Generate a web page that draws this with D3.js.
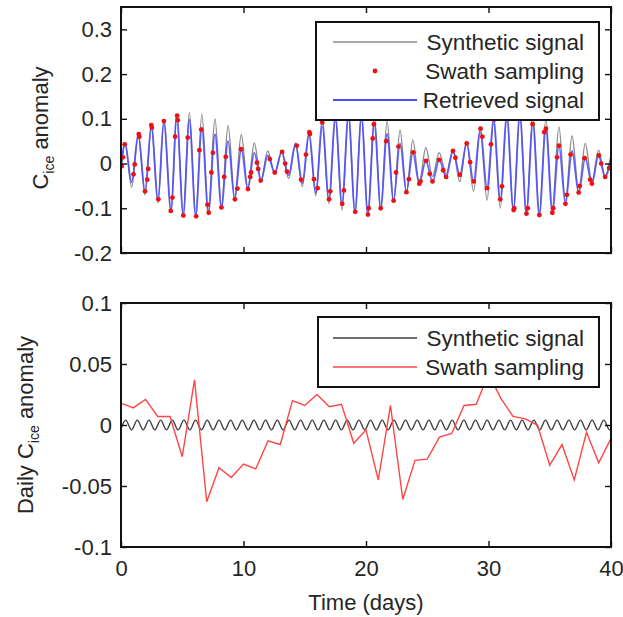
<!DOCTYPE html>
<html>
<head>
<meta charset="utf-8">
<script src="https://cdn.jsdelivr.net/npm/d3@7"></script>
<style>
  body { margin: 0; background: #fff; }
  text { font-family: "Liberation Sans", Arial, Helvetica, sans-serif; fill: #262626; }
</style>
</head>
<body>
<svg id="chart" width="623" height="617"></svg>
<script>
// ---- Top panel: hourly ice-concentration anomaly (days, value) ----
// Synthetic signal, listed at its successive crests and troughs
const synthetic = [
  [0,-0.015],[0.33,0.043],[0.87,-0.053],[1.41,0.062],[1.96,-0.07],
  [2.48,0.08],[3.02,-0.088],[3.50,0.096],[4.08,-0.104],[4.55,0.108],
  [5.08,-0.112],[5.58,0.114],[6.10,-0.115],[6.60,0.111],[7.13,-0.107],
  [7.67,0.1],[8.20,-0.094],[8.74,0.085],[9.28,-0.076],[9.82,0.065],
  [10.35,-0.055],[10.88,0.046],[11.43,-0.037],[11.98,0.028],[12.55,-0.023],
  [13.12,0.026],[13.68,-0.033],[14.25,0.042],[14.80,-0.052],[15.35,0.062],
  [15.90,-0.072],[16.43,0.082],[16.97,-0.09],[17.50,0.098],[18.04,-0.104],
  [18.57,0.108],[19.10,-0.111],[19.63,0.113],[20.15,-0.112],[20.68,0.108],
  [21.20,-0.103],[21.72,0.095],[22.25,-0.085],[22.78,0.075],[23.30,-0.064],
  [23.82,0.053],[24.35,-0.044],[24.88,0.036],[25.43,-0.029],[25.98,0.024],
  [26.54,-0.023],[27.10,0.03],[27.66,-0.04],[28.22,0.05],[28.78,-0.062],
  [29.33,0.07],[29.88,-0.082],[30.42,0.09],[30.96,-0.1],[31.50,0.104],
  [32.03,-0.107],[32.56,0.11],[33.09,-0.112],[33.62,0.112],[34.15,-0.11],
  [34.68,0.1],[35.21,-0.098],[35.75,0.082],[36.28,-0.084],[36.82,0.062],
  [37.36,-0.063],[37.90,0.045],[38.44,-0.043],[38.98,0.03],[39.52,-0.028],
  [40,0.02]
];

// Retrieved signal, crests and troughs
const retrieved = [
  [0,-0.01],[0.33,0.045],[0.87,-0.042],[1.41,0.066],[1.96,-0.062],
  [2.48,0.086],[3.02,-0.082],[3.50,0.095],[4.08,-0.106],[4.55,0.107],
  [5.08,-0.116],[5.58,0.098],[6.10,-0.118],[6.60,0.08],[7.13,-0.11],
  [7.67,0.066],[8.20,-0.098],[8.74,0.05],[9.28,-0.08],[9.82,0.032],
  [10.35,-0.057],[10.88,0.024],[11.43,-0.038],[11.98,0.018],[12.55,-0.02],
  [13.12,0.026],[13.68,-0.026],[14.25,0.045],[14.80,-0.044],[15.35,0.07],
  [15.90,-0.066],[16.43,0.092],[16.97,-0.08],[17.50,0.105],[18.04,-0.09],
  [18.57,0.11],[19.10,-0.108],[19.63,0.105],[20.15,-0.114],[20.68,0.09],
  [21.20,-0.1],[21.72,0.066],[22.25,-0.083],[22.78,0.045],[23.30,-0.064],
  [23.82,0.025],[24.35,-0.045],[24.88,0.006],[25.43,-0.04],[25.98,0.008],
  [26.54,-0.03],[27.10,0.028],[27.66,-0.025],[28.22,0.045],[28.78,-0.04],
  [29.33,0.078],[29.88,-0.055],[30.42,0.098],[30.96,-0.08],[31.50,0.108],
  [32.03,-0.104],[32.56,0.11],[33.09,-0.112],[33.62,0.088],[34.15,-0.115],
  [34.68,0.078],[35.21,-0.11],[35.75,0.04],[36.28,-0.09],[36.82,0.028],
  [37.36,-0.065],[37.90,0.012],[38.44,-0.045],[38.98,0.018],[39.52,-0.03],
  [40,0.012]
];

// Swath sampling points
const swath = [
  [0.05,-0.006],[0.16,0.014],[0.3,0.043],
  [1.02,-0.024],[1.12,-0.002],[1.45,0.066],[1.5,0.06],
  [1.96,-0.062],[2.14,-0.036],[2.22,-0.012],[2.47,0.086],[2.52,0.08],
  [3.05,-0.08],[3.5,0.095],
  [4.06,-0.106],[4.2,-0.076],[4.42,0.06],[4.58,0.107],[4.63,0.097],
  [5.09,-0.116],[5.45,0.058],
  [6.14,-0.118],[6.4,0.03],[6.55,0.076],
  [7.06,-0.092],[7.16,-0.11],[7.38,-0.02],[7.5,0.024],
  [8.2,-0.098],[8.42,-0.03],[8.55,0.015],
  [9.3,-0.08],[9.5,-0.056],[9.8,0.032],
  [10.36,-0.057],[10.55,-0.03],[10.62,-0.02],
  [11.1,0.002],[11.2,-0.012],[11.4,-0.038],
  [12.15,0.01],[12.55,-0.02],
  [13.15,0.026],[13.4,0.0],[13.55,-0.018],
  [14.35,0.04],[14.7,-0.036],
  [15.1,0.02],[15.38,0.07],[15.42,0.066],
  [15.75,-0.035],[16.05,-0.055],[16.43,0.092],
  [16.98,-0.08],[17.08,-0.062],
  [18.06,-0.09],[18.2,-0.06],[18.55,0.11],
  [19.12,-0.108],[19.6,0.105],
  [20.16,-0.114],[20.22,-0.1],[20.55,0.056],[20.64,0.088],
  [21.2,-0.1],[21.65,0.05],
  [22.25,-0.083],[22.45,-0.02],[22.65,0.038],
  [23.3,-0.064],[23.5,-0.035],[23.85,0.025],
  [24.35,-0.045],[24.45,-0.04],[24.9,0.006],
  [25.2,-0.023],[25.43,-0.04],[25.98,0.008],
  [26.3,-0.015],[26.54,-0.03],
  [27.1,0.028],[27.3,0.013],[27.66,-0.025],
  [28.22,0.045],[28.5,0.003],[28.8,-0.04],
  [29.35,0.078],[29.5,0.06],[29.88,-0.055],
  [30.2,0.043],[30.45,0.098],
  [30.96,-0.08],[31.1,-0.051],
  [32.05,-0.104],[32.1,-0.1],[32.55,0.11],
  [33.1,-0.112],[33.2,-0.1],[33.6,0.088],
  [34.15,-0.115],[34.55,0.07],[34.68,0.078],
  [35.21,-0.11],[35.28,-0.1],[35.6,0.014],[35.75,0.04],
  [36.28,-0.09],[36.4,-0.07],[36.7,0.02],
  [37.36,-0.065],[37.45,-0.05],[37.85,0.012],
  [38.3,-0.036],[38.44,-0.045],
  [39.0,0.018],[39.2,0.0],[39.52,-0.03],
  [39.85,-0.01]
];

// ---- Bottom panel: daily means ----
// Daily mean of the synthetic signal (small residual ripple)
const dailySynthetic = [
  [0,-0.003],[0.38,0.004],[0.86,-0.004],[1.33,0.004],[1.81,-0.004],[2.28,0.004],
  [2.76,-0.004],[3.24,0.004],[3.71,-0.004],[4.19,0.004],[4.66,-0.004],[5.14,0.004],
  [5.62,-0.004],[6.09,0.004],[6.57,-0.004],[7.04,0.004],[7.52,-0.004],[8.00,0.004],
  [8.47,-0.004],[8.95,0.004],[9.42,-0.004],[9.90,0.004],[10.38,-0.004],[10.85,0.004],
  [11.33,-0.004],[11.80,0.004],[12.28,-0.004],[12.76,0.004],[13.23,-0.004],[13.71,0.004],
  [14.18,-0.004],[14.66,0.004],[15.14,-0.004],[15.61,0.004],[16.09,-0.004],[16.56,0.004],
  [17.04,-0.004],[17.52,0.004],[17.99,-0.004],[18.47,0.004],[18.94,-0.004],[19.42,0.004],
  [19.90,-0.004],[20.37,0.004],[20.85,-0.004],[21.32,0.004],[21.80,-0.004],[22.28,0.004],
  [22.75,-0.004],[23.23,0.004],[23.70,-0.004],[24.18,0.004],[24.66,-0.004],[25.13,0.004],
  [25.61,-0.004],[26.08,0.004],[26.56,-0.004],[27.04,0.004],[27.51,-0.004],[27.99,0.004],
  [28.46,-0.004],[28.94,0.004],[29.42,-0.004],[29.89,0.004],[30.37,-0.004],[30.84,0.004],
  [31.32,-0.004],[31.80,0.004],[32.27,-0.004],[32.75,0.004],[33.22,-0.004],[33.70,0.004],
  [34.18,-0.004],[34.65,0.004],[35.13,-0.004],[35.60,0.004],[36.08,-0.004],[36.56,0.004],
  [37.03,-0.004],[37.51,0.004],[37.98,-0.004],[38.46,0.004],[38.94,-0.004],[39.41,0.004],
  [39.89,-0.004],[40,-0.0035]
];

// Daily mean of the swath samples
const dailyDays = [0,1,2,3,4,5,6,7,8,9,10,11,12,13,14,15,16,17,18,19,20,
                   21,22,23,24,25,26,27,28,29,30,31,32,33,34,35,36,37,38,39,40];
const dailySwath = [0.018,0.014,0.021,0.007,0.007,-0.026,0.037,-0.063,-0.035,-0.043,-0.032,
                    -0.036,-0.013,-0.016,0.020,0.016,0.025,0.015,0.017,-0.015,-0.004,
                    -0.045,0.016,-0.061,-0.029,-0.028,-0.010,-0.007,0.016,0.017,0.042,
                    0.022,0.007,0.005,0.000,-0.033,-0.016,-0.045,-0.006,-0.031,-0.011];

// Axis ticks and labels
const xTicks = [0,10,20,30,40];
const topYTicks = [-0.2,-0.1,0,0.1,0.2,0.3];
const botYTicks = [-0.1,-0.05,0,0.05,0.1];
const topLegend = ["Synthetic signal","Swath sampling","Retrieved signal"];
const botLegend = ["Synthetic signal","Swath sampling"];
const xTitle = "Time (days)";

// ---- Drawing ----
const svg = d3.select("#chart");
const FS = 22;
const L = 121, R = 611;
const x = d3.scaleLinear().domain([0,40]).range([L,R]);
const yTop = d3.scaleLinear().domain([-0.2,0.35]).range([253,7]);
const yBot = d3.scaleLinear().domain([-0.1,0.1]).range([547,303]);

const colGray = "#8c8c8c", colBlue = "#4a4aff", colRed = "#ee1111", colDark = "#404040", colRedLine = "#ff4545";

const defs = svg.append("defs");
function clip(id, y) {
  const [b, t] = y.range();
  defs.append("clipPath").attr("id", id)
    .append("rect").attr("x", L).attr("y", t).attr("width", R - L).attr("height", b - t);
}
clip("clipTop", yTop);
clip("clipBot", yBot);

function axes(y, ticks, labelX) {
  const g = svg.append("g");
  const [b, t] = y.range();
  const fmt = d => String(d);
  g.append("g").attr("transform", `translate(${L},0)`)
    .call(d3.axisLeft(y).tickValues(ticks).tickSizeInner(-6).tickSizeOuter(0).tickPadding(9).tickFormat(fmt));
  g.append("g").attr("transform", `translate(${R},0)`)
    .call(d3.axisRight(y).tickValues(ticks).tickSizeInner(-6).tickSizeOuter(0).tickFormat(""));
  g.append("g").attr("transform", `translate(0,${b})`)
    .call(d3.axisBottom(x).tickValues(xTicks).tickSizeInner(-6).tickSizeOuter(0)
      .tickPadding(13).tickFormat(labelX ? d3.format("d") : ""));
  g.append("g").attr("transform", `translate(0,${t})`)
    .call(d3.axisTop(x).tickValues(xTicks).tickSizeInner(-6).tickSizeOuter(0).tickFormat(""));
  g.selectAll(".domain").remove();
  g.selectAll(".tick line").attr("stroke", "#111").attr("stroke-width", 1.4);
  g.selectAll(".tick text").attr("font-size", FS).attr("font-family", null).style("fill", "#262626");
  g.append("rect").attr("x", L).attr("y", t).attr("width", R - L).attr("height", b - t)
    .attr("fill", "none").attr("stroke", "#111").attr("stroke-width", 2);
  return g;
}

const smooth = y => d3.line().x(d => x(d[0])).y(d => y(d[1])).curve(d3.curveMonotoneX);
const straight = y => d3.line().x(d => x(d[0])).y(d => y(d[1]));

// Top panel marks
const gTop = svg.append("g").attr("clip-path", "url(#clipTop)");
gTop.append("path").datum(synthetic).attr("d", smooth(yTop))
  .attr("fill", "none").attr("stroke", colGray).attr("stroke-width", 1.4);
gTop.append("path").datum(retrieved).attr("d", smooth(yTop))
  .attr("fill", "none").attr("stroke", colBlue).attr("stroke-width", 1.8).attr("stroke-opacity", 0.85);
gTop.selectAll("circle").data(swath).join("circle")
  .attr("cx", d => x(d[0])).attr("cy", d => yTop(d[1])).attr("r", 2.4).attr("fill", colRed);

// Bottom panel marks
const gBot = svg.append("g").attr("clip-path", "url(#clipBot)");
gBot.append("path").datum(dailySynthetic).attr("d", smooth(yBot))
  .attr("fill", "none").attr("stroke", colDark).attr("stroke-width", 1.4);
gBot.append("path").datum(dailyDays.map((d, i) => [d, dailySwath[i]])).attr("d", straight(yBot))
  .attr("fill", "none").attr("stroke", colRedLine).attr("stroke-width", 1.4);

axes(yTop, topYTicks, false);
axes(yBot, botYTicks, true);

// Legends
function legend(x0, y0, w, h, rows) {
  const g = svg.append("g");
  g.append("rect").attr("x", x0).attr("y", y0).attr("width", w).attr("height", h)
    .attr("fill", "#fff").attr("stroke", "#111").attr("stroke-width", 2);
  rows.forEach(r => {
    if (r.kind === "line") {
      g.append("line").attr("x1", 333).attr("x2", 417).attr("y1", r.y).attr("y2", r.y)
        .attr("stroke", r.color).attr("stroke-width", r.w);
    } else {
      g.append("circle").attr("cx", 375).attr("cy", r.y).attr("r", 2.4).attr("fill", r.color);
    }
    g.append("text").attr("x", 584).attr("y", r.y).attr("dy", "0.36em")
      .attr("text-anchor", "end").attr("font-size", 22.5).text(r.label);
  });
}
legend(316, 22, 283, 98, [
  {kind: "line", y: 42, color: colGray, w: 1.4, label: topLegend[0]},
  {kind: "dot", y: 71, color: colRed, label: topLegend[1]},
  {kind: "line", y: 100, color: colBlue, w: 1.8, label: topLegend[2]}
]);
legend(318, 317, 281, 70, [
  {kind: "line", y: 338, color: colDark, w: 1.4, label: botLegend[0]},
  {kind: "line", y: 367, color: colRedLine, w: 1.4, label: botLegend[1]}
]);

// Axis titles
svg.append("text").attr("x", 366).attr("y", 610).attr("text-anchor", "middle")
  .attr("font-size", FS).text(xTitle);

function yTitle(cx, cy, before, after) {
  const t = svg.append("text").attr("transform", `translate(${cx},${cy}) rotate(-90)`)
    .attr("text-anchor", "middle").attr("font-size", FS);
  t.append("tspan").text(before + "C");
  t.append("tspan").attr("dy", 6).attr("font-size", 14).text("ice");
  t.append("tspan").attr("dy", -6).text(" " + after);
}
yTitle(48, 128, "", "anomaly");
yTitle(33, 425, "Daily ", "anomaly");
</script>
</body>
</html>
